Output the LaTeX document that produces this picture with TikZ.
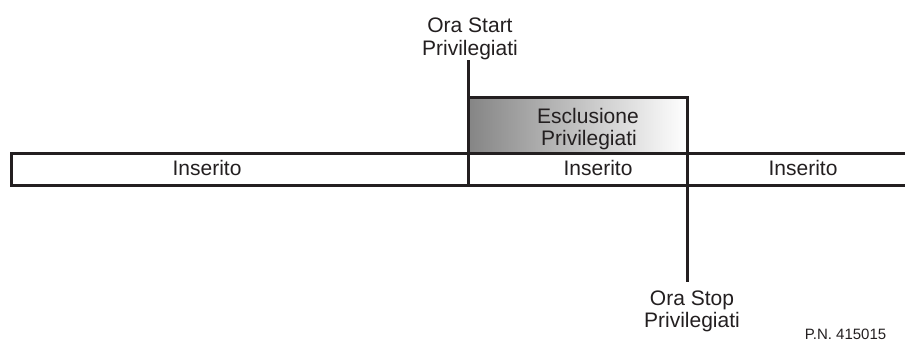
\documentclass[tikz,border=0pt]{standalone}
\usepackage{fontspec}
\setmainfont{Liberation Sans}
\definecolor{ink}{HTML}{231F20}
\begin{document}
\begin{tikzpicture}[x=1pt,y=-1pt,
  lbl/.style={font=\fontsize{21}{23}\selectfont, text=ink, inner sep=0pt, anchor=base, align=center},
  ln/.style={draw=ink, line width=3pt}]
\useasboundingbox (0,0) rectangle (905,341);
% shaded box
\shade[left color=black!48, right color=white] (468,97) rectangle (687,153);
% bar
\coordinate (barTL) at (11.5,153);
\coordinate (barBL) at (11.5,185);
\coordinate (barTR) at (907,153);
\coordinate (barBR) at (907,185);
\draw[ln] (barTR) -- (barTL) -- (barBL) -- (barBR);
% start line and box
\coordinate (startTop) at (468,60);
\coordinate (startBot) at (468,186);
\coordinate (boxTR) at (687,97);
\coordinate (boxTL) at (468,97);
\coordinate (stopBot) at (687,282);
\draw[ln] (startTop) -- (startBot);
\draw[ln] (boxTL) -- (boxTR) -- (stopBot);
% labels
\node[lbl] (start1) at (470,32) {Ora Start};
\node[lbl] (start2) at (470,55) {Privilegiati};
\node[lbl] (excl1) at (588,123) {Esclusione};
\node[lbl] (excl2) at (589,145) {Privilegiati};
\node[lbl] (ins1) at (207,175) {Inserito};
\node[lbl] (ins2) at (598,175) {Inserito};
\node[lbl] (ins3) at (803,175) {Inserito};
\node[lbl] (stop1) at (692,305) {Ora Stop};
\node[lbl] (stop2) at (692,327) {Privilegiati};
\node[lbl, font=\fontsize{15}{17}\selectfont] (pn) at (845.5,339) {P.N. 415015};
\end{tikzpicture}
\end{document}
